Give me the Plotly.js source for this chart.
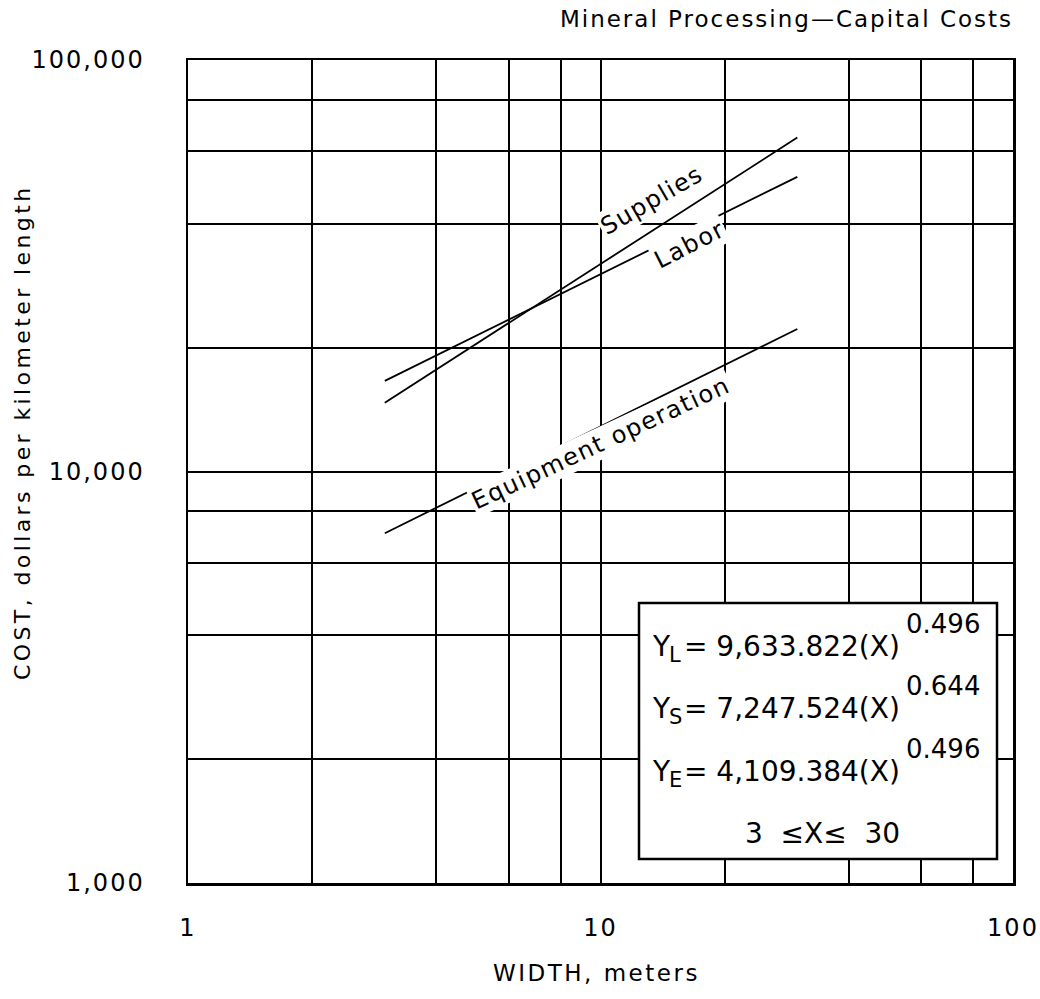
<!DOCTYPE html>
<html>
<head>
<meta charset="utf-8">
<script src="https://cdn.plot.ly/plotly-3.0.1.min.js"></script>
<style>
  html, body { margin: 0; padding: 0; background: #fff; }
  #chart { width: 1040px; height: 999px; }
  /* wide plotter-style lettering */
  .xtick text, .ytick text { letter-spacing: 2px; }
  .gtitle { letter-spacing: 2px; }
</style>
</head>
<body>
<div id="chart"></div>
<script>
// Fitted cost curves, valid for widths of 3 to 30 m
const widthRange = [3, 30];
const laborCost = [16600, 52000];
const suppliesCost = [14700, 64800];
const equipmentCost = [7080, 22200];

// Log-paper grid: labelled decades plus intermediate lines
const xMajor = [1, 10, 100];
const xMajorText = ['1', '10', '100'];
const xMinor = [2, 4, 6, 8, 20, 40, 60, 80];
const yMajor = [1000, 10000, 100000];
const yMajorText = ['1,000', '10,000', '100,000'];
const yMinor = [2000, 4000, 6000, 8000, 20000, 40000, 60000, 80000];

// Regression equations shown in the inset box
const eqLabels = ['L', 'S', 'E'];
const eqCoef = ['9,633.822', '7,247.524', '4,109.384'];
const eqExp = ['0.496', '0.644', '0.496'];
const eqRange = '3  \u2264X\u2264  30';

const FONT = '"DejaVu Sans", "Liberation Sans", sans-serif';

// plot area in page pixels
const L = 188, R = 1013, T = 60, B = 883;
const px = v => (v - L) / (R - L);
const py = v => (B - v) / (B - T);

const spaced = (t, s) => '<span style="letter-spacing:' + s + 'px">' + t + '</span>';

const lineStyle = { color: '#000', width: 1.8 };
const traces = [
  { x: widthRange, y: suppliesCost, name: 'Supplies', mode: 'lines', line: lineStyle },
  { x: widthRange, y: laborCost, name: 'Labor', mode: 'lines', line: lineStyle },
  { x: widthRange, y: equipmentCost, name: 'Equipment operation', mode: 'lines', line: lineStyle }
];

function label(text, x, y, angle, size) {
  return {
    text: spaced(text, 1.5), xref: 'paper', yref: 'paper', x: px(x), y: py(y),
    xanchor: 'center', yanchor: 'middle', showarrow: false, textangle: angle,
    bgcolor: '#fff', borderpad: 1, font: { family: FONT, size: size, color: '#000' }
  };
}

function boxText(text, x, y, size, anchor) {
  return {
    text: text, xref: 'paper', yref: 'paper', x: px(x), y: py(y),
    xanchor: anchor || 'left', yanchor: 'middle', showarrow: false,
    font: { family: FONT, size: size, color: '#000' }
  };
}

const annotations = [
  label('Supplies', 652, 200, -30, 24),
  label('Labor', 689, 245, -27, 24),
  label('Equipment operation', 601, 443, -25, 24),
  {
    text: spaced('COST, dollars per kilometer length', 3.4), xref: 'paper', yref: 'paper',
    x: px(22), y: py(432), xanchor: 'center', yanchor: 'middle', textangle: -90,
    showarrow: false, font: { family: FONT, size: 22, color: '#000' }
  },
  {
    text: spaced('WIDTH, meters', 2.5), xref: 'paper', yref: 'paper',
    x: px(596), y: py(973), xanchor: 'center', yanchor: 'middle',
    showarrow: false, font: { family: FONT, size: 23, color: '#000' }
  }
];

// equation rows: Y, subscript, coefficient, exponent
const rowMid = [646, 708, 771];
for (let i = 0; i < eqLabels.length; i++) {
  const m = rowMid[i];
  annotations.push(boxText('Y', 650, m, 28));
  annotations.push(boxText(eqLabels[i], 667, m + 9, 21));
  annotations.push(boxText('= ' + eqCoef[i] + '(X)', 682, m, 28));
  annotations.push(boxText(eqExp[i], 904, m - 22, 26));
}
annotations.push(boxText(eqRange, 822, 833, 28, 'center'));

const axisCommon = {
  type: 'log', tickmode: 'array', showgrid: true, gridcolor: '#000', gridwidth: 2,
  showline: true, linecolor: '#000', linewidth: 2.5, mirror: true,
  ticks: '', zeroline: false, tickfont: { family: FONT, size: 24, color: '#000' }
};
const minorCommon = { tickmode: 'array', showgrid: true, gridcolor: '#000', gridwidth: 2, ticks: '' };

const layout = {
  width: 1040, height: 999,
  margin: { l: L, r: 1040 - R, t: T, b: 999 - B, pad: 0 },
  paper_bgcolor: '#fff', plot_bgcolor: '#fff',
  showlegend: false,
  title: {
    text: 'Mineral Processing\u2014Capital Costs',
    xref: 'paper', x: 1, xanchor: 'right',
    yref: 'container', y: 1 - 19 / 999, yanchor: 'middle',
    font: { family: FONT, size: 23, color: '#000' }
  },
  xaxis: Object.assign({}, axisCommon, {
    range: [0, 2], tickvals: xMajor, ticktext: xMajorText, ticklabelstandoff: 22,
    minor: Object.assign({ tickvals: xMinor }, minorCommon)
  }),
  yaxis: Object.assign({}, axisCommon, {
    range: [3, 5], tickvals: yMajor, ticktext: yMajorText, ticklabelstandoff: 36,
    minor: Object.assign({ tickvals: yMinor }, minorCommon)
  }),
  shapes: [{
    type: 'rect', xref: 'paper', yref: 'paper', layer: 'above',
    x0: px(639), x1: px(997), y0: py(859), y1: py(603),
    fillcolor: '#fff', line: { color: '#000', width: 2.5 }
  }],
  annotations: annotations
};

Plotly.newPlot('chart', traces, layout, { displayModeBar: false, staticPlot: true });
</script>
</body>
</html>
